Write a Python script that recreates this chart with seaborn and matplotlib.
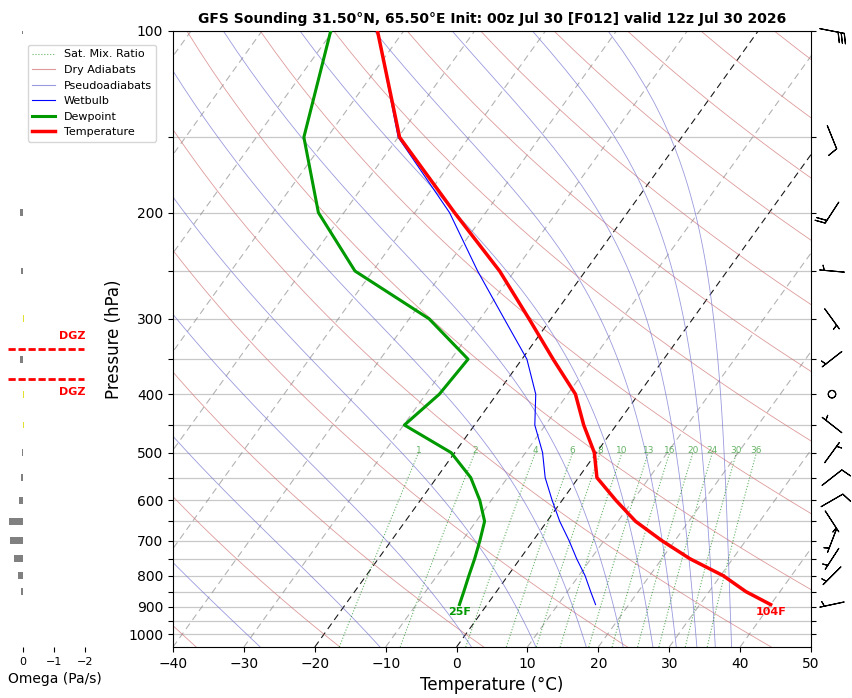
import numpy as np
import pandas as pd
import matplotlib
matplotlib.use("Agg")
import matplotlib.pyplot as plt
from matplotlib.lines import Line2D
from matplotlib.ticker import FixedLocator, NullLocator
import seaborn as sns

TITLE = "GFS Sounding 31.50°N, 65.50°E Init: 00z Jul 30 [F012] valid 12z Jul 30 2026"

# sounding profile (hPa, degC)
PRES = [893, 850, 800, 750, 700, 650, 600, 550, 500, 450, 400, 350, 300, 250, 200, 150, 100]
TEMP = [40.0, 35.2, 30.4, 24.0, 18.2, 12.5, 7.6, 2.6, -0.3, -4.6, -8.9, -15.6, -23.1, -32.1, -44.4, -59.8, -73.7]
DEWP = [-3.9, -4.6, -5.5, -6.4, -7.5, -8.8, -11.6, -15.2, -20.5, -29.9, -28.1, -27.6, -37.2, -52.5, -63.6, -73.3, -80.3]
WETB = [15.3, 13.3, 10.9, 8.0, 5.1, 1.8, -1.4, -4.7, -7.6, -11.5, -14.5, -19.3, -26.6, -35.2, -45.1, -60.0, -73.7]

# winds (deg, kt)
WIND_PRES = [893, 800, 750, 700, 650, 600, 550, 500, 450, 400, 350, 300, 250, 200, 150, 100]
WIND_DIR = [258, 225, 213, 201, 147, 60, 52, 36, 308, 0, 232, 144, 275, 213, 158, 101]
WIND_SPD = [5, 5, 5, 5, 5, 10, 10, 5, 5, 0, 5, 5, 5, 20, 10, 30]

# omega (Pa/s)
OMEGA_PRES = [100, 200, 250, 300, 350, 400, 450, 500, 550, 600, 650, 700, 750, 800, 850]
OMEGA = [0.02, 0.1, 0.07, -0.02, 0.1, -0.02, -0.02, 0.03, 0.05, 0.13, 0.45, 0.42, 0.29, 0.16, 0.07]

# dendritic growth zone bounds (hPa)
DGZ_PRES = [337, 378]

# background line families
MIX_RATIOS = [1, 2, 4, 6, 8, 10, 13, 16, 20, 24, 30, 36]
DRY_THETA = list(range(-40, 261, 20))
MOIST_T1050 = [-27.7, -10.8, 2.1, 11.2, 18.3, 23.5, 27.7, 31.0, 33.9, 36.5, 38.8]
ISOTHERMS = list(range(-100, 51, 10))

P_BOT, P_TOP = 1050, 100
SKEW = 26.6

DRY_C = "#d07070"
MOIST_C = "#7070d0"


def skew_x(t, p):
    return np.asarray(t, float) + SKEW * np.log(P_BOT / np.asarray(p, float))


def sat_vap(tc):
    return 6.112 * np.exp(17.67 * tc / (tc + 243.5))


def moist_profile(t0, p):
    Rd, Cp, Lv, eps = 287.04, 1005.7, 2.501e6, 0.622

    def dtdp(T, pp):
        es = sat_vap(T - 273.15)
        rs = eps * es / (pp - es)
        return (Rd * T + Lv * rs) / (Cp + Lv * Lv * rs * eps / (Rd * T * T)) / pp

    out = [t0 + 273.15]
    for i in range(len(p) - 1):
        T, p0, h = out[-1], p[i], p[i + 1] - p[i]
        k1 = dtdp(T, p0)
        k2 = dtdp(T + h * k1 / 2, p0 + h / 2)
        k3 = dtdp(T + h * k2 / 2, p0 + h / 2)
        k4 = dtdp(T + h * k3, p0 + h)
        out.append(T + h * (k1 + 2 * k2 + 2 * k3 + k4) / 6)
    return np.array(out) - 273.15


def mix_td(w, p):
    e = (w / 1000) * p / (0.622 + w / 1000)
    a = np.log(e / 6.112)
    return 243.5 * a / (17.67 - a)


def main():
    fig = plt.figure(figsize=(8.52, 6.98), dpi=100)
    W, H = 852, 698
    ax = fig.add_axes([173 / W, 51 / H, 638 / W, 616 / H])
    ax_o = fig.add_axes([8 / W, 51 / H, 94 / W, 616 / H], sharey=ax)
    ax_b = fig.add_axes([812 / W, 51 / H, 40 / W, 616 / H], sharey=ax)
    ax_o.patch.set_visible(False)
    ax_b.patch.set_visible(False)

    ax.set_yscale("log")
    ax.set_ylim(P_BOT, P_TOP)
    ax.set_xlim(-40, 50)

    plevs = np.linspace(P_BOT, P_TOP, 120)

    # isotherms
    for t0 in ISOTHERMS:
        hi = t0 in (0, -20)
        ax.plot(skew_x(t0, [P_BOT, P_TOP]), [P_BOT, P_TOP],
                color="black" if hi else "grey", alpha=0.9 if hi else 0.6,
                lw=0.8, dashes=(6, 4), zorder=1)

    # dry adiabats
    for th in DRY_THETA:
        t = (th + 273.15) * (plevs / 1000) ** 0.2857 - 273.15
        ax.plot(skew_x(t, plevs), plevs, color=DRY_C, alpha=0.7, lw=0.6, zorder=1)

    # pseudoadiabats
    for t0 in MOIST_T1050:
        t = moist_profile(t0, plevs)
        ax.plot(skew_x(t, plevs), plevs, color=MOIST_C, alpha=0.7, lw=0.6, zorder=1)

    # mixing ratio lines
    pmix = np.linspace(P_BOT, 500, 40)
    for w in MIX_RATIOS:
        td = mix_td(w, pmix)
        ax.plot(skew_x(td, pmix), pmix, color="green", alpha=0.6, lw=0.8, ls=":", zorder=1)
        ax.text(skew_x(mix_td(w, 500), 500), 505, str(w), ha="center", va="bottom",
                fontsize=6.5, color="green", alpha=0.6)

    # horizontal grid
    grid_p = list(range(100, 1001, 50))
    for p in grid_p:
        ax.axhline(p, color="#c8c8c8", lw=0.9, zorder=0.5)

    df = pd.DataFrame({"p": PRES, "t": skew_x(TEMP, PRES),
                       "td": skew_x(DEWP, PRES), "tw": skew_x(WETB, PRES)})
    sns.lineplot(data=df, x="tw", y="p", sort=False, estimator=None, ax=ax,
                 color="blue", lw=0.8, zorder=3)
    sns.lineplot(data=df, x="td", y="p", sort=False, estimator=None, ax=ax,
                 color="#009900", lw=2.2, zorder=4)
    sns.lineplot(data=df, x="t", y="p", sort=False, estimator=None, ax=ax,
                 color="red", lw=2.5, zorder=5)

    # surface labels in F
    tf = round(TEMP[0] * 9 / 5 + 32)
    tdf = round(DEWP[0] * 9 / 5 + 32)
    ax.annotate(f"{tdf}F", (skew_x(DEWP[0], PRES[0]), PRES[0]), xytext=(0, -2),
                textcoords="offset points", ha="center", va="top",
                color="#009900", fontsize=8, fontweight="bold")
    ax.annotate(f"{tf}F", (skew_x(TEMP[0], PRES[0]), PRES[0]), xytext=(0, -2),
                textcoords="offset points", ha="center", va="top",
                color="red", fontsize=8, fontweight="bold")

    ax.yaxis.set_major_locator(FixedLocator(grid_p))
    ax.yaxis.set_minor_locator(NullLocator())
    ax.set_yticklabels([str(p) if p % 100 == 0 else "" for p in grid_p])
    ax.set_xticks(range(-40, 51, 10))
    ax.tick_params(axis="y", right=True, labelsize=10)
    ax.tick_params(axis="x", labelsize=10)
    ax.set_xlabel("Temperature (°C)", fontsize=12)
    ax.set_ylabel("Pressure (hPa)", fontsize=12)
    ax.set_title(TITLE, fontsize=10, fontweight="bold")

    handles = [
        Line2D([], [], color="green", alpha=0.6, lw=0.8, ls=":", label="Sat. Mix. Ratio"),
        Line2D([], [], color=DRY_C, alpha=0.7, lw=0.8, label="Dry Adiabats"),
        Line2D([], [], color=MOIST_C, alpha=0.7, lw=0.8, label="Pseudoadiabats"),
        Line2D([], [], color="blue", lw=0.8, label="Wetbulb"),
        Line2D([], [], color="#009900", lw=2.2, label="Dewpoint"),
        Line2D([], [], color="red", lw=2.5, label="Temperature"),
    ]
    fig.legend(handles=handles, loc="upper left", bbox_to_anchor=(28 / W, 1 - 45 / H),
               fontsize=8, borderaxespad=0)

    # omega panel
    colors = ["grey" if w > 0 else "#e0e030" for w in OMEGA]
    ax_o.barh(OMEGA_PRES, OMEGA, height=np.array(OMEGA_PRES) * 0.026, color=colors)
    ax_o.set_xlim(0.48, -2.55)
    ax_o.set_xticks([0, -1, -2])
    ax_o.tick_params(axis="x", labelsize=8)
    ax_o.tick_params(axis="y", left=False, labelleft=False)
    for s in ax_o.spines.values():
        s.set_visible(False)
    ax_o.set_xlabel("Omega (Pa/s)", fontsize=10)
    for p, va, dy in zip(DGZ_PRES, ["bottom", "top"], [0.97, 1.03]):
        ax_o.axhline(p, xmin=0, xmax=0.81, color="red", lw=2, ls=(0, (2.6, 1.0)))
        ax_o.text(0.82, p * dy, "DGZ", transform=ax_o.get_yaxis_transform(),
                  ha="right", va=va, color="red", fontsize=8, fontweight="bold")

    # wind barbs
    spd = np.array(WIND_SPD, float)
    d = np.deg2rad(WIND_DIR)
    u, v = -spd * np.sin(d), -spd * np.cos(d)
    ax_b.barbs(np.full(len(u), 0.5), WIND_PRES, u, v, pivot="middle", length=6,
               linewidth=0.8, clip_on=False)
    ax_b.set_xlim(0, 1)
    ax_b.axis("off")

    fig.savefig("out.png", dpi=100)


if __name__ == "__main__":
    main()
